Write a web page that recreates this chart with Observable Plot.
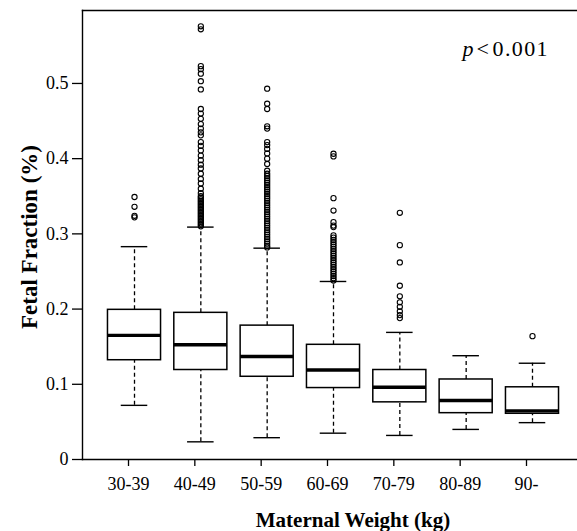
<!DOCTYPE html>
<html><head><meta charset="utf-8">
<script src="https://cdn.jsdelivr.net/npm/d3@7"></script>
<script src="https://cdn.jsdelivr.net/npm/@observablehq/plot@0.6"></script>
<style>html,body{margin:0;padding:0;background:#fff;overflow:hidden}</style>
</head><body><div id="chart"></div>
<script>
const categories = ["30-39","40-49","50-59","60-69","70-79","80-89","90-"];
const lowerWhisker = [0.072, 0.0235, 0.029, 0.035, 0.032, 0.040, 0.049];
const q1 = [0.132, 0.119, 0.110, 0.095, 0.076, 0.0616, 0.0608];
const median = [0.165, 0.1525, 0.137, 0.119, 0.096, 0.0785, 0.0647];
const q3 = [0.199, 0.195, 0.178, 0.1525, 0.119, 0.1064, 0.096];
const upperWhisker = [0.283, 0.309, 0.281, 0.2367, 0.169, 0.138, 0.128];
const outliers3039 = [0.349, 0.336, 0.324, 0.322];
const outliers4049 = [0.576, 0.572, 0.523, 0.519, 0.513, 0.503, 0.492, 0.466, 0.460, 0.453, 0.446, 0.440, 0.435, 0.431, 0.422, 0.417, 0.411, 0.404, 0.398, 0.392, 0.387, 0.380, 0.373, 0.367, 0.360, 0.354, 0.350, 0.348, 0.346, 0.344, 0.342, 0.340, 0.338, 0.336, 0.334, 0.332, 0.330, 0.328, 0.326, 0.324, 0.322, 0.320, 0.318, 0.316, 0.314, 0.312, 0.310];
const outliers5059 = [0.493, 0.473, 0.466, 0.443, 0.440, 0.422, 0.418, 0.413, 0.407, 0.400, 0.393, 0.384, 0.380, 0.377, 0.374, 0.371, 0.368, 0.365, 0.362, 0.359, 0.356, 0.353, 0.350, 0.347, 0.344, 0.341, 0.338, 0.335, 0.332, 0.329, 0.326, 0.323, 0.320, 0.317, 0.314, 0.311, 0.308, 0.305, 0.302, 0.299, 0.296, 0.293, 0.290, 0.287, 0.284, 0.282];
const outliers6069 = [0.4065, 0.403, 0.3475, 0.331, 0.3156, 0.311, 0.309, 0.298, 0.295, 0.292, 0.289, 0.286, 0.283, 0.280, 0.277, 0.274, 0.271, 0.268, 0.265, 0.262, 0.259, 0.256, 0.253, 0.250, 0.247, 0.244, 0.241, 0.238];
const outliers7079 = [0.328, 0.285, 0.262, 0.231, 0.217, 0.209, 0.203, 0.197, 0.192, 0.188];
const outliers8089 = [];
const outliers90 = [0.164];
const yTicks = [0, 0.1, 0.2, 0.3, 0.4, 0.5];
const xLabel = "Maternal Weight (kg)";
const yLabel = "Fetal Fraction (%)";
const pSymbol = "p";
const pLess = "<";
const pValue = "0.001";

const outlierGroups = [outliers3039, outliers4049, outliers5059, outliers6069, outliers7079, outliers8089, outliers90];
const positions = categories.map((c, i) => i + 1);
const boxes = categories.map((c, i) => ({
  cat: c, pos: i + 1, lo: lowerWhisker[i], q1: q1[i], med: median[i], q3: q3[i], hi: upperWhisker[i]
}));
const outlierRows = outlierGroups.flatMap((g, i) => g.map(v => ({pos: i + 1, v})));

const half = 0.4, cap = 0.2;
const font = "'Liberation Serif', 'Times New Roman', serif";

const plot = Plot.plot({
  width: 577, height: 531,
  marginLeft: 82, marginRight: 0, marginTop: 10, marginBottom: 72,
  style: {fontFamily: font, fontSize: "18px", color: "#000", background: "#fff", overflow: "hidden"},
  x: {type: "linear", domain: [0.216, 7.784], range: [82, 584]},
  y: {domain: [0, 0.597]},
  marks: [
    Plot.frame({anchor: "top", stroke: "#000", strokeOpacity: 1, strokeWidth: 1.4}),
    Plot.frame({anchor: "left", stroke: "#000", strokeOpacity: 1, strokeWidth: 1.4}),
    Plot.frame({anchor: "bottom", stroke: "#000", strokeOpacity: 1, strokeWidth: 1.4}),
    Plot.axisX({ticks: positions, tickFormat: d => categories[d - 1], tickSize: 7, tickPadding: 11, label: null, fontSize: 18, dx: -6, strokeWidth: 1.3}),
    Plot.axisY({ticks: yTicks, tickFormat: d => d === 0 ? "0" : d.toFixed(1), tickSize: 10, tickPadding: 4, label: null, fontSize: 18, strokeWidth: 1.3}),
    // whiskers
    Plot.ruleX(boxes, {x: "pos", y1: "q3", y2: "hi", stroke: "#000", strokeWidth: 1.3, strokeDasharray: "4,3"}),
    Plot.ruleX(boxes, {x: "pos", y1: "lo", y2: "q1", stroke: "#000", strokeWidth: 1.3, strokeDasharray: "4,3"}),
    Plot.ruleY(boxes, {y: "hi", x1: d => d.pos - cap, x2: d => d.pos + cap, stroke: "#000", strokeWidth: 1.4}),
    Plot.ruleY(boxes, {y: "lo", x1: d => d.pos - cap, x2: d => d.pos + cap, stroke: "#000", strokeWidth: 1.4}),
    // boxes
    Plot.rect(boxes, {x1: d => d.pos - half, x2: d => d.pos + half, y1: "q1", y2: "q3", fill: "#fff", stroke: "#000", strokeWidth: 1.5}),
    Plot.ruleY(boxes, {y: "med", x1: d => d.pos - half, x2: d => d.pos + half, stroke: "#000", strokeWidth: 3.4}),
    // outliers
    Plot.dot(outlierRows, {x: "pos", y: "v", r: 2.6, stroke: "#000", strokeWidth: 1.1, fill: "none"}),
    // labels
    Plot.text([yLabel], {frameAnchor: "left", dx: -53, dy: 2, rotate: -90, textAnchor: "middle", lineAnchor: "middle", fontWeight: "bold", fontSize: 23, fill: "#000"}),
    Plot.text([xLabel], {frameAnchor: "bottom", dx: 23, dy: 61, textAnchor: "middle", lineAnchor: "middle", fontWeight: "bold", fontSize: 21, fill: "#000"}),
    Plot.text([pSymbol], {frameAnchor: "top-left", dx: 380, dy: 38, textAnchor: "start", lineAnchor: "middle", fontStyle: "italic", fontSize: 22, fill: "#000"}),
    Plot.text([pLess], {frameAnchor: "top-left", dx: 394, dy: 38, textAnchor: "start", lineAnchor: "middle", fontSize: 22, fill: "#000"}),
    Plot.text([pValue], {frameAnchor: "top-left", dx: 410, dy: 38, textAnchor: "start", lineAnchor: "middle", fontSize: 22, fill: "#000", className: "pval"})
  ]
});
d3.select(plot).selectAll(".pval text").style("letter-spacing", "1.4px");
document.getElementById("chart").appendChild(plot);
</script>
</body></html>
